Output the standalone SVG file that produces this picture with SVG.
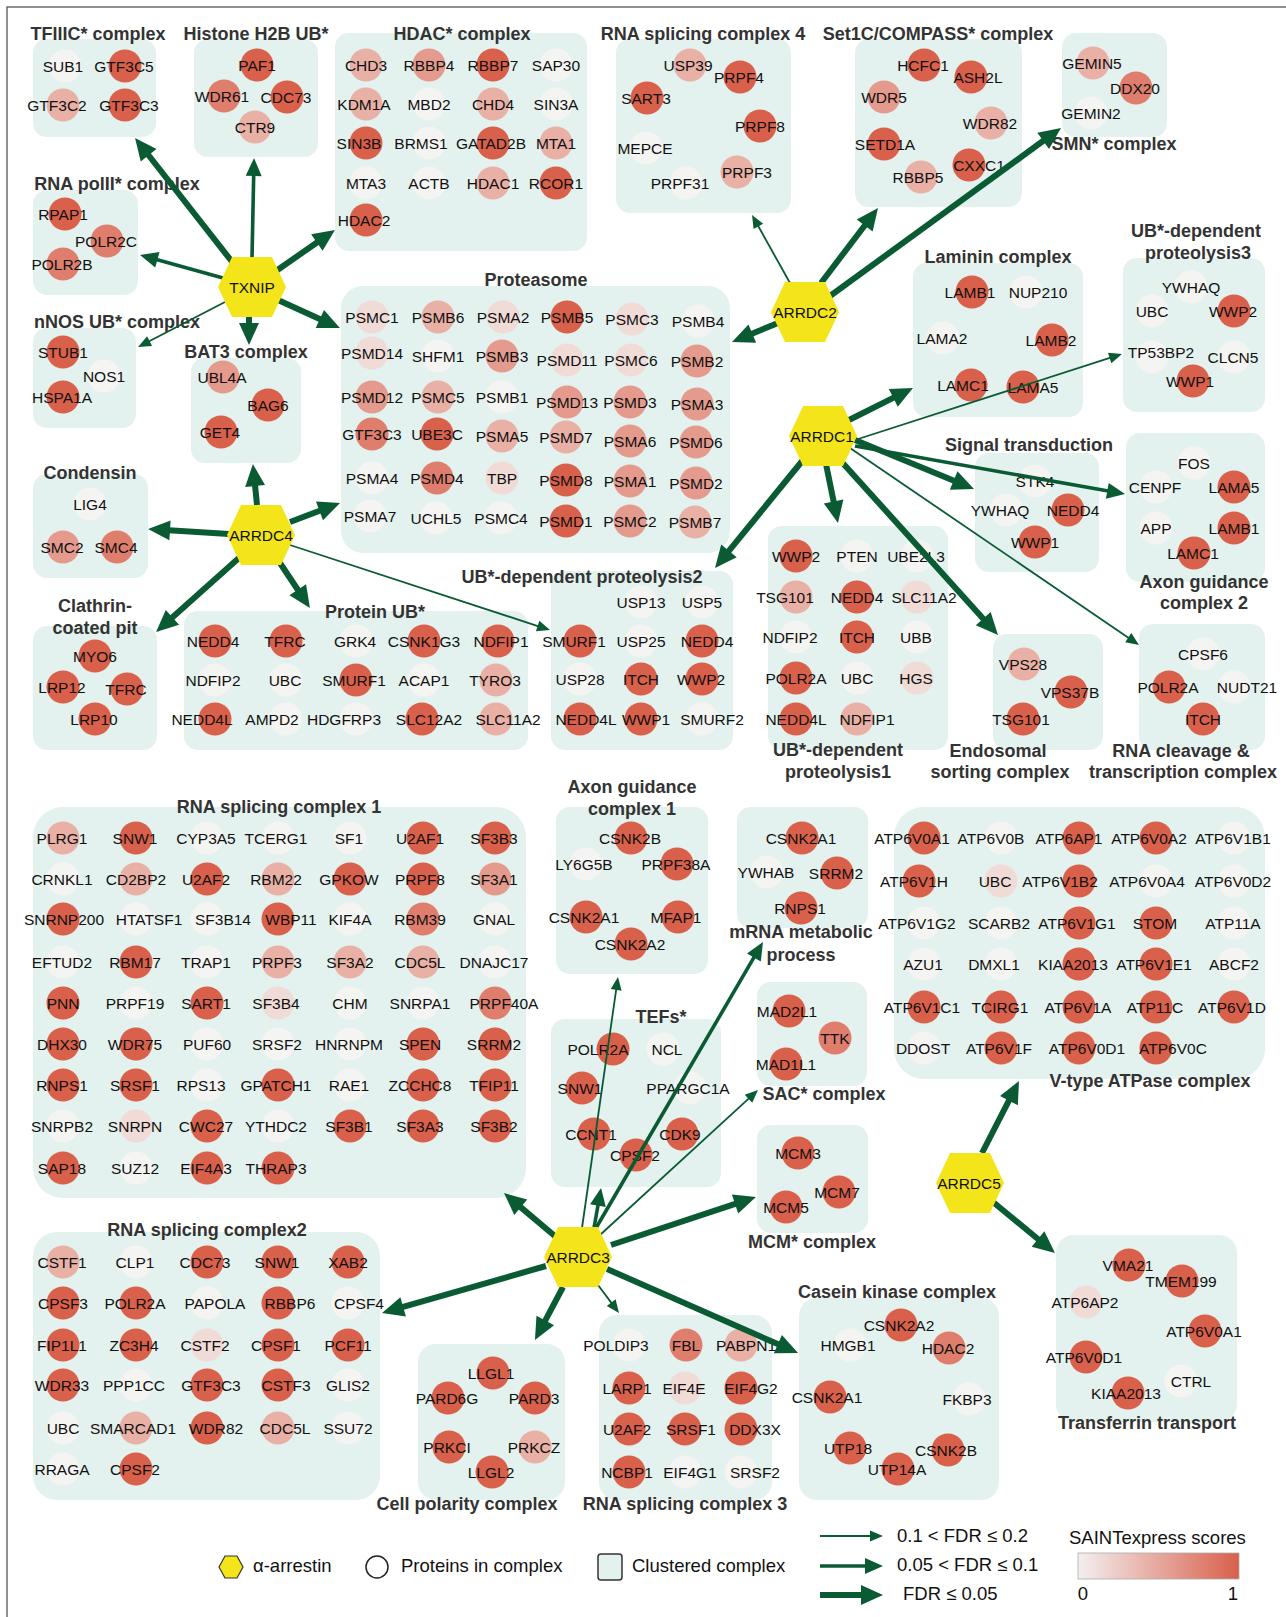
<svg xmlns="http://www.w3.org/2000/svg" width="1286" height="1617" viewBox="0 0 1286 1617">
<defs>
<style>
.bx{fill:#e3f2ee}
.t{font-family:'Liberation Sans',Arial,sans-serif;font-weight:bold;font-size:18px;fill:#333;text-anchor:middle}
.l{font-family:'Liberation Sans',Arial,sans-serif;font-size:15.5px;fill:#111;text-anchor:middle}
.g{font-family:'Liberation Sans',Arial,sans-serif;font-size:18.5px;fill:#111}
.c0{fill:#f4f4f2}.c1{fill:#f1dbd7}.c2{fill:#e9b0a6}.c3{fill:#e49a8c}.c4{fill:#df7e6d}.c5{fill:#d9604b}
.a1,.a2,.a3{stroke:#0a5b34;fill:none}
.a1{stroke-width:1.8;marker-end:url(#m1)}
.a2{stroke-width:3.6;marker-end:url(#m2)}
.a3{stroke-width:6;marker-end:url(#m3)}
</style>
<marker id="m1" markerUnits="userSpaceOnUse" markerWidth="14" markerHeight="12" refX="1" refY="5.5" orient="auto" overflow="visible"><path d="M0,0 L13,5.5 L0,11 z" fill="#0a5b34"/></marker>
<marker id="m2" markerUnits="userSpaceOnUse" markerWidth="19" markerHeight="17" refX="1" refY="8" orient="auto" overflow="visible"><path d="M0,0 L18,8 L0,16 z" fill="#0a5b34"/></marker>
<marker id="m3" markerUnits="userSpaceOnUse" markerWidth="23" markerHeight="21" refX="1" refY="10" orient="auto" overflow="visible"><path d="M0,0 L22,10 L0,20 z" fill="#0a5b34"/></marker>
<polygon id="hex" points="-34,0 -20,-30 20,-30 34,0 20,30 -20,30" fill="#f4e51b"/>
<linearGradient id="sg" x1="0" x2="1" y1="0" y2="0"><stop offset="0" stop-color="#f3efef"/><stop offset="1" stop-color="#d9604c"/></linearGradient>
</defs>
<rect width="1286" height="1617" fill="#fff"/>
<rect x="7" y="7" width="1300" height="1640" fill="none" stroke="#555" stroke-width="1.3"/>

<g id="tfiiic">
<rect class="bx" x="33" y="39" width="123" height="98" rx="14"/>
<text class="t" x="98" y="40">TFIIIC* complex</text>
<circle class="c0" cx="65" cy="66" r="16.5"/><text class="l" x="63" y="71.5">SUB1</text>
<circle class="c5" cx="125" cy="66" r="16.5"/><text class="l" x="124" y="71.5">GTF3C5</text>
<circle class="c2" cx="63" cy="105" r="16.5"/><text class="l" x="57" y="110.5">GTF3C2</text>
<circle class="c5" cx="125" cy="105" r="16.5"/><text class="l" x="129" y="110.5">GTF3C3</text>
</g>

<g id="h2b">
<rect class="bx" x="194" y="39" width="124" height="118" rx="14"/>
<text class="t" x="256" y="40">Histone H2B UB*</text>
<circle class="c5" cx="257" cy="65" r="16.5"/><text class="l" x="257" y="70.5">PAF1</text>
<circle class="c4" cx="224" cy="96" r="16.5"/><text class="l" x="222" y="101.5">WDR61</text>
<circle class="c5" cx="287" cy="97" r="16.5"/><text class="l" x="286" y="102.5">CDC73</text>
<circle class="c2" cx="255" cy="127" r="16.5"/><text class="l" x="255" y="132.5">CTR9</text>
</g>

<g id="hdac">
<rect class="bx" x="335" y="33" width="252" height="218" rx="14"/>
<text class="t" x="462" y="40">HDAC* complex</text>
<circle class="c2" cx="366" cy="65" r="16.5"/><text class="l" x="366" y="70.5">CHD3</text>
<circle class="c3" cx="429" cy="65" r="16.5"/><text class="l" x="429" y="70.5">RBBP4</text>
<circle class="c5" cx="493" cy="65" r="16.5"/><text class="l" x="493" y="70.5">RBBP7</text>
<circle class="c0" cx="556" cy="65" r="16.5"/><text class="l" x="556" y="70.5">SAP30</text>
<circle class="c2" cx="366" cy="104" r="16.5"/><text class="l" x="364" y="109.5">KDM1A</text>
<circle class="c0" cx="429" cy="104" r="16.5"/><text class="l" x="429" y="109.5">MBD2</text>
<circle class="c2" cx="493" cy="104" r="16.5"/><text class="l" x="493" y="109.5">CHD4</text>
<circle class="c0" cx="556" cy="104" r="16.5"/><text class="l" x="556" y="109.5">SIN3A</text>
<circle class="c5" cx="366" cy="143" r="16.5"/><text class="l" x="359" y="148.5">SIN3B</text>
<circle class="c0" cx="429" cy="143" r="16.5"/><text class="l" x="421" y="148.5">BRMS1</text>
<circle class="c5" cx="493" cy="143" r="16.5"/><text class="l" x="491" y="148.5">GATAD2B</text>
<circle class="c2" cx="556" cy="143" r="16.5"/><text class="l" x="556" y="148.5">MTA1</text>
<circle class="c0" cx="366" cy="183" r="16.5"/><text class="l" x="366" y="188.5">MTA3</text>
<circle class="c0" cx="429" cy="183" r="16.5"/><text class="l" x="429" y="188.5">ACTB</text>
<circle class="c2" cx="493" cy="183" r="16.5"/><text class="l" x="493" y="188.5">HDAC1</text>
<circle class="c5" cx="556" cy="183" r="16.5"/><text class="l" x="556" y="188.5">RCOR1</text>
<circle class="c5" cx="366" cy="220" r="16.5"/><text class="l" x="364" y="225.5">HDAC2</text>
</g>

<g id="rnasp4">
<rect class="bx" x="616" y="39" width="175" height="174" rx="14"/>
<text class="t" x="703" y="40">RNA splicing complex 4</text>
<circle class="c2" cx="690" cy="65" r="16.5"/><text class="l" x="688" y="70.5">USP39</text>
<circle class="c5" cx="740" cy="77" r="16.5"/><text class="l" x="739" y="82.5">PRPF4</text>
<circle class="c5" cx="647" cy="98" r="16.5"/><text class="l" x="646" y="103.5">SART3</text>
<circle class="c5" cx="760" cy="126" r="16.5"/><text class="l" x="760" y="131.5">PRPF8</text>
<circle class="c0" cx="646" cy="148" r="16.5"/><text class="l" x="645" y="153.5">MEPCE</text>
<circle class="c2" cx="737" cy="172" r="16.5"/><text class="l" x="747" y="177.5">PRPF3</text>
<circle class="c0" cx="686" cy="183" r="16.5"/><text class="l" x="680" y="188.5">PRPF31</text>
</g>

<g id="set1c">
<rect class="bx" x="855" y="39" width="167" height="168" rx="14"/>
<text class="t" x="938" y="40">Set1C/COMPASS* complex</text>
<circle class="c5" cx="924" cy="65" r="16.5"/><text class="l" x="923" y="70.5">HCFC1</text>
<circle class="c5" cx="971" cy="77" r="16.5"/><text class="l" x="978" y="82.5">ASH2L</text>
<circle class="c3" cx="884" cy="97" r="16.5"/><text class="l" x="884" y="102.5">WDR5</text>
<circle class="c2" cx="991" cy="123" r="16.5"/><text class="l" x="990" y="128.5">WDR82</text>
<circle class="c5" cx="884" cy="144" r="16.5"/><text class="l" x="885" y="149.5">SETD1A</text>
<circle class="c2" cx="921" cy="177" r="16.5"/><text class="l" x="918" y="182.5">RBBP5</text>
<circle class="c5" cx="969" cy="165" r="16.5"/><text class="l" x="979" y="170.5">CXXC1</text>
</g>

<g id="smn">
<rect class="bx" x="1062" y="33" width="105" height="104" rx="14"/>
<text class="t" x="1114" y="150">SMN* complex</text>
<circle class="c2" cx="1093" cy="63" r="16.5"/><text class="l" x="1092" y="68.5">GEMIN5</text>
<circle class="c4" cx="1136" cy="88" r="16.5"/><text class="l" x="1135" y="93.5">DDX20</text>
<circle class="c0" cx="1091" cy="113" r="16.5"/><text class="l" x="1091" y="118.5">GEMIN2</text>
</g>

<g id="rnapol2">
<rect class="bx" x="33" y="190" width="105" height="105" rx="14"/>
<text class="t" x="117" y="190">RNA polII* complex</text>
<circle class="c5" cx="65" cy="214" r="16.5"/><text class="l" x="63" y="219.5">RPAP1</text>
<circle class="c4" cx="107" cy="241" r="16.5"/><text class="l" x="106" y="246.5">POLR2C</text>
<circle class="c4" cx="63" cy="264" r="16.5"/><text class="l" x="62" y="269.5">POLR2B</text>
</g>

<g id="nnos">
<rect class="bx" x="33" y="328" width="103" height="100" rx="14"/>
<text class="t" x="117" y="328">nNOS UB* complex</text>
<circle class="c5" cx="63" cy="352" r="16.5"/><text class="l" x="63" y="357.5">STUB1</text>
<circle class="c0" cx="104" cy="376" r="16.5"/><text class="l" x="104" y="381.5">NOS1</text>
<circle class="c5" cx="63" cy="397" r="16.5"/><text class="l" x="62" y="402.5">HSPA1A</text>
</g>

<g id="bat3">
<rect class="bx" x="191" y="358" width="110" height="105" rx="14"/>
<text class="t" x="246" y="358">BAT3 complex</text>
<circle class="c3" cx="223" cy="377" r="16.5"/><text class="l" x="222" y="382.5">UBL4A</text>
<circle class="c5" cx="268" cy="405" r="16.5"/><text class="l" x="268" y="410.5">BAG6</text>
<circle class="c5" cx="221" cy="432" r="16.5"/><text class="l" x="220" y="437.5">GET4</text>
</g>

<g id="proteasome">
<rect class="bx" x="341" y="286" width="389" height="267" rx="22"/>
<text class="t" x="536" y="286">Proteasome</text>
<circle class="c1" cx="372" cy="317" r="16.5"/><text class="l" x="372" y="322.5">PSMC1</text>
<circle class="c2" cx="438" cy="317" r="16.5"/><text class="l" x="438" y="322.5">PSMB6</text>
<circle class="c1" cx="503" cy="317" r="16.5"/><text class="l" x="503" y="322.5">PSMA2</text>
<circle class="c5" cx="567" cy="317" r="16.5"/><text class="l" x="567" y="322.5">PSMB5</text>
<circle class="c1" cx="632" cy="319" r="16.5"/><text class="l" x="632" y="324.5">PSMC3</text>
<circle class="c0" cx="698" cy="321" r="16.5"/><text class="l" x="698" y="326.5">PSMB4</text>
<circle class="c1" cx="372" cy="353" r="16.5"/><text class="l" x="372" y="358.5">PSMD14</text>
<circle class="c0" cx="438" cy="356" r="16.5"/><text class="l" x="438" y="361.5">SHFM1</text>
<circle class="c3" cx="502" cy="356" r="16.5"/><text class="l" x="502" y="361.5">PSMB3</text>
<circle class="c1" cx="567" cy="360" r="16.5"/><text class="l" x="567" y="365.5">PSMD11</text>
<circle class="c1" cx="631" cy="360" r="16.5"/><text class="l" x="631" y="365.5">PSMC6</text>
<circle class="c3" cx="697" cy="361" r="16.5"/><text class="l" x="697" y="366.5">PSMB2</text>
<circle class="c3" cx="372" cy="397" r="16.5"/><text class="l" x="372" y="402.5">PSMD12</text>
<circle class="c2" cx="438" cy="397" r="16.5"/><text class="l" x="438" y="402.5">PSMC5</text>
<circle class="c0" cx="502" cy="397" r="16.5"/><text class="l" x="502" y="402.5">PSMB1</text>
<circle class="c3" cx="567" cy="402" r="16.5"/><text class="l" x="567" y="407.5">PSMD13</text>
<circle class="c3" cx="630" cy="402" r="16.5"/><text class="l" x="630" y="407.5">PSMD3</text>
<circle class="c3" cx="697" cy="404" r="16.5"/><text class="l" x="697" y="409.5">PSMA3</text>
<circle class="c4" cx="372" cy="434" r="16.5"/><text class="l" x="372" y="439.5">GTF3C3</text>
<circle class="c5" cx="437" cy="434" r="16.5"/><text class="l" x="437" y="439.5">UBE3C</text>
<circle class="c2" cx="502" cy="436" r="16.5"/><text class="l" x="502" y="441.5">PSMA5</text>
<circle class="c2" cx="566" cy="437" r="16.5"/><text class="l" x="566" y="442.5">PSMD7</text>
<circle class="c3" cx="630" cy="441" r="16.5"/><text class="l" x="630" y="446.5">PSMA6</text>
<circle class="c3" cx="696" cy="442" r="16.5"/><text class="l" x="696" y="447.5">PSMD6</text>
<circle class="c0" cx="372" cy="478" r="16.5"/><text class="l" x="372" y="483.5">PSMA4</text>
<circle class="c4" cx="437" cy="478" r="16.5"/><text class="l" x="437" y="483.5">PSMD4</text>
<circle class="c1" cx="502" cy="478" r="16.5"/><text class="l" x="502" y="483.5">TBP</text>
<circle class="c5" cx="566" cy="480" r="16.5"/><text class="l" x="566" y="485.5">PSMD8</text>
<circle class="c3" cx="630" cy="481" r="16.5"/><text class="l" x="630" y="486.5">PSMA1</text>
<circle class="c3" cx="696" cy="483" r="16.5"/><text class="l" x="696" y="488.5">PSMD2</text>
<circle class="c0" cx="370" cy="516" r="16.5"/><text class="l" x="370" y="521.5">PSMA7</text>
<circle class="c0" cx="436" cy="518" r="16.5"/><text class="l" x="436" y="523.5">UCHL5</text>
<circle class="c0" cx="501" cy="518" r="16.5"/><text class="l" x="501" y="523.5">PSMC4</text>
<circle class="c5" cx="566" cy="521" r="16.5"/><text class="l" x="566" y="526.5">PSMD1</text>
<circle class="c3" cx="630" cy="521" r="16.5"/><text class="l" x="630" y="526.5">PSMC2</text>
<circle class="c2" cx="695" cy="522" r="16.5"/><text class="l" x="695" y="527.5">PSMB7</text>
</g>

<g id="laminin">
<rect class="bx" x="913" y="263" width="170" height="154" rx="14"/>
<text class="t" x="998" y="263">Laminin complex</text>
<circle class="c5" cx="972" cy="292" r="16.5"/><text class="l" x="970" y="297.5">LAMB1</text>
<circle class="c0" cx="1026" cy="292" r="16.5"/><text class="l" x="1038" y="297.5">NUP210</text>
<circle class="c0" cx="943" cy="338" r="16.5"/><text class="l" x="942" y="343.5">LAMA2</text>
<circle class="c5" cx="1052" cy="340" r="16.5"/><text class="l" x="1051" y="345.5">LAMB2</text>
<circle class="c5" cx="971" cy="385" r="16.5"/><text class="l" x="963" y="390.5">LAMC1</text>
<circle class="c5" cx="1023" cy="387" r="16.5"/><text class="l" x="1033" y="392.5">LAMA5</text>
</g>

<g id="ubdp3">
<rect class="bx" x="1123" y="258" width="142" height="154" rx="14"/>
<text class="t" x="1196" y="237">UB*-dependent</text>
<text class="t" x="1198" y="259">proteolysis3</text>
<circle class="c0" cx="1191" cy="287" r="16.5"/><text class="l" x="1191" y="292.5">YWHAQ</text>
<circle class="c0" cx="1152" cy="311" r="16.5"/><text class="l" x="1152" y="316.5">UBC</text>
<circle class="c5" cx="1234" cy="311" r="16.5"/><text class="l" x="1233" y="316.5">WWP2</text>
<circle class="c0" cx="1152" cy="357" r="16.5"/><text class="l" x="1161" y="357.5">TP53BP2</text>
<circle class="c0" cx="1234" cy="357" r="16.5"/><text class="l" x="1233" y="362.5">CLCN5</text>
<circle class="c5" cx="1193" cy="381" r="16.5"/><text class="l" x="1190" y="386.5">WWP1</text>
</g>

<g id="signal">
<rect class="bx" x="975" y="453" width="124" height="119" rx="14"/>
<text class="t" x="1029" y="451">Signal transduction</text>
<circle class="c0" cx="1035" cy="481" r="16.5"/><text class="l" x="1035" y="486.5">STK4</text>
<circle class="c0" cx="1006" cy="510" r="16.5"/><text class="l" x="1000" y="515.5">YWHAQ</text>
<circle class="c5" cx="1068" cy="510" r="16.5"/><text class="l" x="1073" y="515.5">NEDD4</text>
<circle class="c5" cx="1035" cy="542" r="16.5"/><text class="l" x="1035" y="547.5">WWP1</text>
</g>

<g id="axon2">
<rect class="bx" x="1126" y="433" width="139" height="149" rx="14"/>
<text class="t" x="1204" y="588">Axon guidance</text>
<text class="t" x="1204" y="609">complex 2</text>
<circle class="c0" cx="1194" cy="463" r="16.5"/><text class="l" x="1194" y="468.5">FOS</text>
<circle class="c0" cx="1156" cy="487" r="16.5"/><text class="l" x="1155" y="492.5">CENPF</text>
<circle class="c5" cx="1234" cy="487" r="16.5"/><text class="l" x="1234" y="492.5">LAMA5</text>
<circle class="c0" cx="1156" cy="528" r="16.5"/><text class="l" x="1156" y="533.5">APP</text>
<circle class="c5" cx="1234" cy="528" r="16.5"/><text class="l" x="1234" y="533.5">LAMB1</text>
<circle class="c5" cx="1194" cy="553" r="16.5"/><text class="l" x="1193" y="558.5">LAMC1</text>
</g>

<g id="ubdp1">
<rect class="bx" x="768" y="526" width="180" height="224" rx="14"/>
<text class="t" x="838" y="756">UB*-dependent</text>
<text class="t" x="838" y="778">proteolysis1</text>
<circle class="c5" cx="796" cy="556" r="16.5"/><text class="l" x="796" y="561.5">WWP2</text>
<circle class="c0" cx="857" cy="556" r="16.5"/><text class="l" x="857" y="561.5">PTEN</text>
<circle class="c0" cx="917" cy="556" r="16.5"/><text class="l" x="916" y="561.5">UBE2L3</text>
<circle class="c2" cx="796" cy="597" r="16.5"/><text class="l" x="785" y="602.5">TSG101</text>
<circle class="c5" cx="857" cy="597" r="16.5"/><text class="l" x="857" y="602.5">NEDD4</text>
<circle class="c1" cx="917" cy="597" r="16.5"/><text class="l" x="924" y="602.5">SLC11A2</text>
<circle class="c0" cx="796" cy="637" r="16.5"/><text class="l" x="790" y="642.5">NDFIP2</text>
<circle class="c5" cx="857" cy="637" r="16.5"/><text class="l" x="857" y="642.5">ITCH</text>
<circle class="c0" cx="917" cy="637" r="16.5"/><text class="l" x="916" y="642.5">UBB</text>
<circle class="c5" cx="796" cy="678" r="16.5"/><text class="l" x="796" y="683.5">POLR2A</text>
<circle class="c0" cx="857" cy="678" r="16.5"/><text class="l" x="857" y="683.5">UBC</text>
<circle class="c1" cx="917" cy="678" r="16.5"/><text class="l" x="916" y="683.5">HGS</text>
<circle class="c5" cx="796" cy="719" r="16.5"/><text class="l" x="796" y="724.5">NEDD4L</text>
<circle class="c2" cx="857" cy="719" r="16.5"/><text class="l" x="867" y="724.5">NDFIP1</text>
</g>

<g id="endosomal">
<rect class="bx" x="993" y="634" width="110" height="116" rx="14"/>
<text class="t" x="998" y="757">Endosomal</text>
<text class="t" x="1000" y="778">sorting complex</text>
<circle class="c2" cx="1024" cy="664" r="16.5"/><text class="l" x="1023" y="669.5">VPS28</text>
<circle class="c5" cx="1071" cy="692" r="16.5"/><text class="l" x="1070" y="697.5">VPS37B</text>
<circle class="c5" cx="1023" cy="719" r="16.5"/><text class="l" x="1021" y="724.5">TSG101</text>
</g>

<g id="rnacleav">
<rect class="bx" x="1139" y="624" width="126" height="126" rx="14"/>
<text class="t" x="1181" y="757">RNA cleavage &amp;</text>
<text class="t" x="1183" y="778">transcription complex</text>
<circle class="c0" cx="1203" cy="654" r="16.5"/><text class="l" x="1203" y="659.5">CPSF6</text>
<circle class="c5" cx="1169" cy="687" r="16.5"/><text class="l" x="1168" y="692.5">POLR2A</text>
<circle class="c0" cx="1234" cy="687" r="16.5"/><text class="l" x="1247" y="692.5">NUDT21</text>
<circle class="c5" cx="1203" cy="719" r="16.5"/><text class="l" x="1203" y="724.5">ITCH</text>
</g>

<g id="condensin">
<rect class="bx" x="33" y="474" width="115" height="104" rx="14"/>
<text class="t" x="90" y="479">Condensin</text>
<circle class="c0" cx="90" cy="504" r="16.5"/><text class="l" x="90" y="509.5">LIG4</text>
<circle class="c3" cx="63" cy="547" r="16.5"/><text class="l" x="62" y="552.5">SMC2</text>
<circle class="c4" cx="117" cy="547" r="16.5"/><text class="l" x="116" y="552.5">SMC4</text>
</g>

<g id="clathrin">
<rect class="bx" x="33" y="626" width="124" height="124" rx="14"/>
<text class="t" x="95" y="612">Clathrin-</text>
<text class="t" x="95" y="634">coated pit</text>
<circle class="c5" cx="95" cy="656" r="16.5"/><text class="l" x="95" y="661.5">MYO6</text>
<circle class="c5" cx="63" cy="687" r="16.5"/><text class="l" x="62" y="692.5">LRP12</text>
<circle class="c5" cx="127" cy="689" r="16.5"/><text class="l" x="126" y="694.5">TFRC</text>
<circle class="c5" cx="95" cy="719" r="16.5"/><text class="l" x="94" y="724.5">LRP10</text>
</g>

<g id="proteinub">
<rect class="bx" x="184" y="611" width="344" height="139" rx="14"/>
<text class="t" x="375" y="618">Protein UB*</text>
<circle class="c5" cx="215" cy="641" r="16.5"/><text class="l" x="213" y="646.5">NEDD4</text>
<circle class="c5" cx="286" cy="641" r="16.5"/><text class="l" x="285" y="646.5">TFRC</text>
<circle class="c0" cx="356" cy="641" r="16.5"/><text class="l" x="355" y="646.5">GRK4</text>
<circle class="c5" cx="424" cy="641" r="16.5"/><text class="l" x="424" y="646.5">CSNK1G3</text>
<circle class="c5" cx="498" cy="641" r="16.5"/><text class="l" x="501" y="646.5">NDFIP1</text>
<circle class="c0" cx="215" cy="680" r="16.5"/><text class="l" x="213" y="685.5">NDFIP2</text>
<circle class="c0" cx="286" cy="680" r="16.5"/><text class="l" x="285" y="685.5">UBC</text>
<circle class="c5" cx="356" cy="680" r="16.5"/><text class="l" x="354" y="685.5">SMURF1</text>
<circle class="c0" cx="424" cy="680" r="16.5"/><text class="l" x="424" y="685.5">ACAP1</text>
<circle class="c2" cx="496" cy="680" r="16.5"/><text class="l" x="495" y="685.5">TYRO3</text>
<circle class="c5" cx="215" cy="719" r="16.5"/><text class="l" x="202" y="724.5">NEDD4L</text>
<circle class="c0" cx="286" cy="719" r="16.5"/><text class="l" x="272" y="724.5">AMPD2</text>
<circle class="c0" cx="356" cy="719" r="16.5"/><text class="l" x="344" y="724.5">HDGFRP3</text>
<circle class="c5" cx="422" cy="719" r="16.5"/><text class="l" x="429" y="724.5">SLC12A2</text>
<circle class="c2" cx="496" cy="719" r="16.5"/><text class="l" x="508" y="724.5">SLC11A2</text>
</g>

<g id="ubdp2">
<rect class="bx" x="551" y="571" width="182" height="179" rx="14"/>
<text class="t" x="582" y="583">UB*-dependent proteolysis2</text>
<circle class="c0" cx="641" cy="602" r="16.5"/><text class="l" x="641" y="607.5">USP13</text>
<circle class="c0" cx="702" cy="602" r="16.5"/><text class="l" x="702" y="607.5">USP5</text>
<circle class="c5" cx="580" cy="641" r="16.5"/><text class="l" x="574" y="646.5">SMURF1</text>
<circle class="c0" cx="641" cy="641" r="16.5"/><text class="l" x="641" y="646.5">USP25</text>
<circle class="c5" cx="702" cy="641" r="16.5"/><text class="l" x="707" y="646.5">NEDD4</text>
<circle class="c0" cx="580" cy="679" r="16.5"/><text class="l" x="580" y="684.5">USP28</text>
<circle class="c5" cx="641" cy="679" r="16.5"/><text class="l" x="641" y="684.5">ITCH</text>
<circle class="c5" cx="702" cy="679" r="16.5"/><text class="l" x="701" y="684.5">WWP2</text>
<circle class="c5" cx="580" cy="719" r="16.5"/><text class="l" x="586" y="724.5">NEDD4L</text>
<circle class="c5" cx="641" cy="719" r="16.5"/><text class="l" x="646" y="724.5">WWP1</text>
<circle class="c0" cx="702" cy="719" r="16.5"/><text class="l" x="712" y="724.5">SMURF2</text>
</g>

<g id="rnasp1">
<rect class="bx" x="33" y="807" width="493" height="391" rx="30"/>
<text class="t" x="279" y="813">RNA splicing complex 1</text>
<circle class="c2" cx="63" cy="838" r="16.5"/><text class="l" x="62" y="843.5">PLRG1</text>
<circle class="c5" cx="136" cy="838" r="16.5"/><text class="l" x="135" y="843.5">SNW1</text>
<circle class="c0" cx="207" cy="838" r="16.5"/><text class="l" x="206" y="843.5">CYP3A5</text>
<circle class="c0" cx="278" cy="838" r="16.5"/><text class="l" x="276" y="843.5">TCERG1</text>
<circle class="c0" cx="350" cy="838" r="16.5"/><text class="l" x="349" y="843.5">SF1</text>
<circle class="c5" cx="423" cy="838" r="16.5"/><text class="l" x="420" y="843.5">U2AF1</text>
<circle class="c5" cx="495" cy="838" r="16.5"/><text class="l" x="494" y="843.5">SF3B3</text>
<circle class="c0" cx="63" cy="879" r="16.5"/><text class="l" x="62" y="884.5">CRNKL1</text>
<circle class="c2" cx="136" cy="879" r="16.5"/><text class="l" x="136" y="884.5">CD2BP2</text>
<circle class="c5" cx="207" cy="879" r="16.5"/><text class="l" x="206" y="884.5">U2AF2</text>
<circle class="c2" cx="278" cy="879" r="16.5"/><text class="l" x="276" y="884.5">RBM22</text>
<circle class="c5" cx="350" cy="879" r="16.5"/><text class="l" x="349" y="884.5">GPKOW</text>
<circle class="c5" cx="423" cy="879" r="16.5"/><text class="l" x="420" y="884.5">PRPF8</text>
<circle class="c3" cx="495" cy="879" r="16.5"/><text class="l" x="494" y="884.5">SF3A1</text>
<circle class="c5" cx="63" cy="919" r="16.5"/><text class="l" x="64" y="924.5">SNRNP200</text>
<circle class="c0" cx="136" cy="919" r="16.5"/><text class="l" x="149" y="924.5">HTATSF1</text>
<circle class="c0" cx="207" cy="919" r="16.5"/><text class="l" x="223" y="924.5">SF3B14</text>
<circle class="c5" cx="278" cy="919" r="16.5"/><text class="l" x="291" y="924.5">WBP11</text>
<circle class="c0" cx="350" cy="919" r="16.5"/><text class="l" x="350" y="924.5">KIF4A</text>
<circle class="c4" cx="423" cy="919" r="16.5"/><text class="l" x="420" y="924.5">RBM39</text>
<circle class="c0" cx="495" cy="919" r="16.5"/><text class="l" x="494" y="924.5">GNAL</text>
<circle class="c0" cx="63" cy="962" r="16.5"/><text class="l" x="62" y="967.5">EFTUD2</text>
<circle class="c5" cx="136" cy="962" r="16.5"/><text class="l" x="135" y="967.5">RBM17</text>
<circle class="c0" cx="207" cy="962" r="16.5"/><text class="l" x="206" y="967.5">TRAP1</text>
<circle class="c2" cx="278" cy="962" r="16.5"/><text class="l" x="277" y="967.5">PRPF3</text>
<circle class="c2" cx="350" cy="962" r="16.5"/><text class="l" x="350" y="967.5">SF3A2</text>
<circle class="c2" cx="423" cy="962" r="16.5"/><text class="l" x="420" y="967.5">CDC5L</text>
<circle class="c0" cx="495" cy="962" r="16.5"/><text class="l" x="494" y="967.5">DNAJC17</text>
<circle class="c5" cx="63" cy="1003" r="16.5"/><text class="l" x="63" y="1008.5">PNN</text>
<circle class="c0" cx="136" cy="1003" r="16.5"/><text class="l" x="135" y="1008.5">PRPF19</text>
<circle class="c5" cx="207" cy="1003" r="16.5"/><text class="l" x="206" y="1008.5">SART1</text>
<circle class="c1" cx="278" cy="1003" r="16.5"/><text class="l" x="276" y="1008.5">SF3B4</text>
<circle class="c0" cx="350" cy="1003" r="16.5"/><text class="l" x="350" y="1008.5">CHM</text>
<circle class="c0" cx="423" cy="1003" r="16.5"/><text class="l" x="420" y="1008.5">SNRPA1</text>
<circle class="c4" cx="495" cy="1003" r="16.5"/><text class="l" x="504" y="1008.5">PRPF40A</text>
<circle class="c5" cx="63" cy="1044" r="16.5"/><text class="l" x="62" y="1049.5">DHX30</text>
<circle class="c5" cx="136" cy="1044" r="16.5"/><text class="l" x="135" y="1049.5">WDR75</text>
<circle class="c0" cx="207" cy="1044" r="16.5"/><text class="l" x="207" y="1049.5">PUF60</text>
<circle class="c0" cx="278" cy="1044" r="16.5"/><text class="l" x="277" y="1049.5">SRSF2</text>
<circle class="c0" cx="350" cy="1044" r="16.5"/><text class="l" x="349" y="1049.5">HNRNPM</text>
<circle class="c5" cx="423" cy="1044" r="16.5"/><text class="l" x="420" y="1049.5">SPEN</text>
<circle class="c5" cx="495" cy="1044" r="16.5"/><text class="l" x="494" y="1049.5">SRRM2</text>
<circle class="c5" cx="63" cy="1085" r="16.5"/><text class="l" x="62" y="1090.5">RNPS1</text>
<circle class="c5" cx="136" cy="1085" r="16.5"/><text class="l" x="135" y="1090.5">SRSF1</text>
<circle class="c0" cx="207" cy="1085" r="16.5"/><text class="l" x="201" y="1090.5">RPS13</text>
<circle class="c5" cx="278" cy="1085" r="16.5"/><text class="l" x="276" y="1090.5">GPATCH1</text>
<circle class="c0" cx="350" cy="1085" r="16.5"/><text class="l" x="349" y="1090.5">RAE1</text>
<circle class="c5" cx="423" cy="1085" r="16.5"/><text class="l" x="420" y="1090.5">ZCCHC8</text>
<circle class="c5" cx="495" cy="1085" r="16.5"/><text class="l" x="494" y="1090.5">TFIP11</text>
<circle class="c0" cx="63" cy="1126" r="16.5"/><text class="l" x="62" y="1131.5">SNRPB2</text>
<circle class="c1" cx="136" cy="1126" r="16.5"/><text class="l" x="135" y="1131.5">SNRPN</text>
<circle class="c5" cx="207" cy="1126" r="16.5"/><text class="l" x="206" y="1131.5">CWC27</text>
<circle class="c0" cx="278" cy="1126" r="16.5"/><text class="l" x="276" y="1131.5">YTHDC2</text>
<circle class="c5" cx="350" cy="1126" r="16.5"/><text class="l" x="349" y="1131.5">SF3B1</text>
<circle class="c5" cx="423" cy="1126" r="16.5"/><text class="l" x="420" y="1131.5">SF3A3</text>
<circle class="c5" cx="495" cy="1126" r="16.5"/><text class="l" x="494" y="1131.5">SF3B2</text>
<circle class="c5" cx="63" cy="1168" r="16.5"/><text class="l" x="62" y="1173.5">SAP18</text>
<circle class="c0" cx="136" cy="1168" r="16.5"/><text class="l" x="135" y="1173.5">SUZ12</text>
<circle class="c5" cx="207" cy="1168" r="16.5"/><text class="l" x="206" y="1173.5">EIF4A3</text>
<circle class="c5" cx="278" cy="1168" r="16.5"/><text class="l" x="276" y="1173.5">THRAP3</text>
</g>

<g id="axon1">
<rect class="bx" x="556" y="807" width="152" height="167" rx="14"/>
<text class="t" x="632" y="793">Axon guidance</text>
<text class="t" x="632" y="815">complex 1</text>
<circle class="c5" cx="631" cy="838" r="16.5"/><text class="l" x="630" y="843.5">CSNK2B</text>
<circle class="c0" cx="586" cy="864" r="16.5"/><text class="l" x="584" y="869.5">LY6G5B</text>
<circle class="c5" cx="677" cy="864" r="16.5"/><text class="l" x="676" y="869.5">PRPF38A</text>
<circle class="c5" cx="586" cy="917" r="16.5"/><text class="l" x="584" y="922.5">CSNK2A1</text>
<circle class="c5" cx="678" cy="917" r="16.5"/><text class="l" x="676" y="922.5">MFAP1</text>
<circle class="c5" cx="631" cy="944" r="16.5"/><text class="l" x="630" y="949.5">CSNK2A2</text>
</g>

<g id="mrna">
<rect class="bx" x="737" y="807" width="131" height="121" rx="14"/>
<text class="t" x="801" y="938">mRNA metabolic</text>
<text class="t" x="801" y="961">process</text>
<circle class="c5" cx="802" cy="838" r="16.5"/><text class="l" x="801" y="843.5">CSNK2A1</text>
<circle class="c0" cx="767" cy="872" r="16.5"/><text class="l" x="766" y="877.5">YWHAB</text>
<circle class="c5" cx="837" cy="873" r="16.5"/><text class="l" x="836" y="878.5">SRRM2</text>
<circle class="c5" cx="801" cy="908" r="16.5"/><text class="l" x="800" y="913.5">RNPS1</text>
</g>

<g id="sac">
<rect class="bx" x="757" y="982" width="110" height="104" rx="14"/>
<text class="t" x="824" y="1100">SAC* complex</text>
<circle class="c5" cx="789" cy="1011" r="16.5"/><text class="l" x="787" y="1016.5">MAD2L1</text>
<circle class="c4" cx="835" cy="1038" r="16.5"/><text class="l" x="835" y="1043.5">TTK</text>
<circle class="c5" cx="786" cy="1064" r="16.5"/><text class="l" x="786" y="1069.5">MAD1L1</text>
</g>

<g id="tefs">
<rect class="bx" x="551" y="1019" width="170" height="168" rx="14"/>
<text class="t" x="661" y="1023">TEFs*</text>
<circle class="c5" cx="613" cy="1049" r="16.5"/><text class="l" x="598" y="1054.5">POLR2A</text>
<circle class="c0" cx="663" cy="1049" r="16.5"/><text class="l" x="667" y="1054.5">NCL</text>
<circle class="c5" cx="582" cy="1088" r="16.5"/><text class="l" x="580" y="1093.5">SNW1</text>
<circle class="c0" cx="690" cy="1088" r="16.5"/><text class="l" x="688" y="1093.5">PPARGC1A</text>
<circle class="c5" cx="594" cy="1134" r="16.5"/><text class="l" x="591" y="1139.5">CCNT1</text>
<circle class="c5" cx="682" cy="1134" r="16.5"/><text class="l" x="680" y="1139.5">CDK9</text>
<circle class="c5" cx="636" cy="1155" r="16.5"/><text class="l" x="635" y="1160.5">CPSF2</text>
</g>

<g id="mcm">
<rect class="bx" x="757" y="1125" width="111" height="108" rx="14"/>
<text class="t" x="812" y="1248">MCM* complex</text>
<circle class="c5" cx="798" cy="1153" r="16.5"/><text class="l" x="798" y="1158.5">MCM3</text>
<circle class="c5" cx="839" cy="1192" r="16.5"/><text class="l" x="837" y="1197.5">MCM7</text>
<circle class="c5" cx="786" cy="1207" r="16.5"/><text class="l" x="786" y="1212.5">MCM5</text>
</g>

<g id="vatpase">
<rect class="bx" x="894" y="807" width="371" height="272" rx="30"/>
<text class="t" x="1150" y="1087">V-type ATPase complex</text>
<circle class="c5" cx="924" cy="838" r="16.5"/><text class="l" x="912" y="843.5">ATP6V0A1</text>
<circle class="c0" cx="1001" cy="838" r="16.5"/><text class="l" x="991" y="843.5">ATP6V0B</text>
<circle class="c5" cx="1079" cy="838" r="16.5"/><text class="l" x="1069" y="843.5">ATP6AP1</text>
<circle class="c5" cx="1156" cy="838" r="16.5"/><text class="l" x="1149" y="843.5">ATP6V0A2</text>
<circle class="c0" cx="1234" cy="838" r="16.5"/><text class="l" x="1233" y="843.5">ATP6V1B1</text>
<circle class="c5" cx="919" cy="881" r="16.5"/><text class="l" x="914" y="886.5">ATP6V1H</text>
<circle class="c1" cx="1001" cy="881" r="16.5"/><text class="l" x="995" y="886.5">UBC</text>
<circle class="c5" cx="1079" cy="881" r="16.5"/><text class="l" x="1060" y="886.5">ATP6V1B2</text>
<circle class="c0" cx="1156" cy="881" r="16.5"/><text class="l" x="1147" y="886.5">ATP6V0A4</text>
<circle class="c0" cx="1234" cy="881" r="16.5"/><text class="l" x="1233" y="886.5">ATP6V0D2</text>
<circle class="c0" cx="924" cy="923" r="16.5"/><text class="l" x="917" y="928.5">ATP6V1G2</text>
<circle class="c0" cx="1001" cy="923" r="16.5"/><text class="l" x="999" y="928.5">SCARB2</text>
<circle class="c5" cx="1079" cy="923" r="16.5"/><text class="l" x="1077" y="928.5">ATP6V1G1</text>
<circle class="c5" cx="1156" cy="923" r="16.5"/><text class="l" x="1155" y="928.5">STOM</text>
<circle class="c0" cx="1234" cy="923" r="16.5"/><text class="l" x="1233" y="928.5">ATP11A</text>
<circle class="c0" cx="924" cy="964" r="16.5"/><text class="l" x="923" y="969.5">AZU1</text>
<circle class="c0" cx="1001" cy="964" r="16.5"/><text class="l" x="994" y="969.5">DMXL1</text>
<circle class="c5" cx="1079" cy="964" r="16.5"/><text class="l" x="1073" y="969.5">KIAA2013</text>
<circle class="c5" cx="1156" cy="964" r="16.5"/><text class="l" x="1154" y="969.5">ATP6V1E1</text>
<circle class="c0" cx="1234" cy="964" r="16.5"/><text class="l" x="1234" y="969.5">ABCF2</text>
<circle class="c5" cx="924" cy="1007" r="16.5"/><text class="l" x="922" y="1012.5">ATP6V1C1</text>
<circle class="c5" cx="1001" cy="1007" r="16.5"/><text class="l" x="1000" y="1012.5">TCIRG1</text>
<circle class="c5" cx="1079" cy="1007" r="16.5"/><text class="l" x="1078" y="1012.5">ATP6V1A</text>
<circle class="c5" cx="1156" cy="1007" r="16.5"/><text class="l" x="1155" y="1012.5">ATP11C</text>
<circle class="c5" cx="1234" cy="1007" r="16.5"/><text class="l" x="1232" y="1012.5">ATP6V1D</text>
<circle class="c0" cx="924" cy="1048" r="16.5"/><text class="l" x="923" y="1053.5">DDOST</text>
<circle class="c5" cx="1001" cy="1048" r="16.5"/><text class="l" x="999" y="1053.5">ATP6V1F</text>
<circle class="c5" cx="1079" cy="1048" r="16.5"/><text class="l" x="1087" y="1053.5">ATP6V0D1</text>
<circle class="c5" cx="1156" cy="1048" r="16.5"/><text class="l" x="1173" y="1053.5">ATP6V0C</text>
</g>

<g id="transferrin">
<rect class="bx" x="1056" y="1235" width="181" height="187" rx="18"/>
<text class="t" x="1147" y="1429">Transferrin transport</text>
<circle class="c5" cx="1129" cy="1265" r="16.5"/><text class="l" x="1128" y="1270.5">VMA21</text>
<circle class="c5" cx="1182" cy="1281" r="16.5"/><text class="l" x="1181" y="1286.5">TMEM199</text>
<circle class="c1" cx="1086" cy="1302" r="16.5"/><text class="l" x="1085" y="1307.5">ATP6AP2</text>
<circle class="c5" cx="1205" cy="1331" r="16.5"/><text class="l" x="1204" y="1336.5">ATP6V0A1</text>
<circle class="c5" cx="1086" cy="1357" r="16.5"/><text class="l" x="1084" y="1362.5">ATP6V0D1</text>
<circle class="c0" cx="1181" cy="1381" r="16.5"/><text class="l" x="1191" y="1386.5">CTRL</text>
<circle class="c5" cx="1128" cy="1393" r="16.5"/><text class="l" x="1126" y="1398.5">KIAA2013</text>
</g>

<g id="casein">
<rect class="bx" x="799" y="1298" width="200" height="202" rx="18"/>
<text class="t" x="897" y="1298">Casein kinase complex</text>
<circle class="c5" cx="901" cy="1325" r="16.5"/><text class="l" x="899" y="1330.5">CSNK2A2</text>
<circle class="c0" cx="850" cy="1345" r="16.5"/><text class="l" x="848" y="1350.5">HMGB1</text>
<circle class="c4" cx="949" cy="1348" r="16.5"/><text class="l" x="948" y="1353.5">HDAC2</text>
<circle class="c5" cx="830" cy="1397" r="16.5"/><text class="l" x="827" y="1402.5">CSNK2A1</text>
<circle class="c0" cx="969" cy="1399" r="16.5"/><text class="l" x="967" y="1404.5">FKBP3</text>
<circle class="c5" cx="850" cy="1448" r="16.5"/><text class="l" x="848" y="1453.5">UTP18</text>
<circle class="c5" cx="948" cy="1450" r="16.5"/><text class="l" x="946" y="1455.5">CSNK2B</text>
<circle class="c5" cx="898" cy="1469" r="16.5"/><text class="l" x="897" y="1474.5">UTP14A</text>
</g>

<g id="rnasp2">
<rect class="bx" x="33" y="1232" width="347" height="268" rx="24"/>
<text class="t" x="207" y="1236">RNA splicing complex2</text>
<circle class="c2" cx="63" cy="1262" r="16.5"/><text class="l" x="62" y="1267.5">CSTF1</text>
<circle class="c0" cx="136" cy="1262" r="16.5"/><text class="l" x="135" y="1267.5">CLP1</text>
<circle class="c5" cx="207" cy="1262" r="16.5"/><text class="l" x="205" y="1267.5">CDC73</text>
<circle class="c5" cx="278" cy="1262" r="16.5"/><text class="l" x="277" y="1267.5">SNW1</text>
<circle class="c5" cx="348" cy="1262" r="16.5"/><text class="l" x="348" y="1267.5">XAB2</text>
<circle class="c5" cx="63" cy="1303" r="16.5"/><text class="l" x="63" y="1308.5">CPSF3</text>
<circle class="c5" cx="136" cy="1303" r="16.5"/><text class="l" x="135" y="1308.5">POLR2A</text>
<circle class="c0" cx="207" cy="1303" r="16.5"/><text class="l" x="215" y="1308.5">PAPOLA</text>
<circle class="c5" cx="278" cy="1303" r="16.5"/><text class="l" x="290" y="1308.5">RBBP6</text>
<circle class="c0" cx="348" cy="1303" r="16.5"/><text class="l" x="359" y="1308.5">CPSF4</text>
<circle class="c5" cx="63" cy="1345" r="16.5"/><text class="l" x="62" y="1350.5">FIP1L1</text>
<circle class="c5" cx="136" cy="1345" r="16.5"/><text class="l" x="134" y="1350.5">ZC3H4</text>
<circle class="c1" cx="207" cy="1345" r="16.5"/><text class="l" x="205" y="1350.5">CSTF2</text>
<circle class="c5" cx="278" cy="1345" r="16.5"/><text class="l" x="276" y="1350.5">CPSF1</text>
<circle class="c5" cx="348" cy="1345" r="16.5"/><text class="l" x="348" y="1350.5">PCF11</text>
<circle class="c5" cx="63" cy="1385" r="16.5"/><text class="l" x="62" y="1390.5">WDR33</text>
<circle class="c0" cx="136" cy="1385" r="16.5"/><text class="l" x="134" y="1390.5">PPP1CC</text>
<circle class="c5" cx="207" cy="1385" r="16.5"/><text class="l" x="211" y="1390.5">GTF3C3</text>
<circle class="c5" cx="278" cy="1385" r="16.5"/><text class="l" x="286" y="1390.5">CSTF3</text>
<circle class="c0" cx="348" cy="1385" r="16.5"/><text class="l" x="348" y="1390.5">GLIS2</text>
<circle class="c0" cx="63" cy="1428" r="16.5"/><text class="l" x="63" y="1433.5">UBC</text>
<circle class="c2" cx="136" cy="1428" r="16.5"/><text class="l" x="133" y="1433.5">SMARCAD1</text>
<circle class="c5" cx="207" cy="1428" r="16.5"/><text class="l" x="216" y="1433.5">WDR82</text>
<circle class="c2" cx="278" cy="1428" r="16.5"/><text class="l" x="285" y="1433.5">CDC5L</text>
<circle class="c0" cx="348" cy="1428" r="16.5"/><text class="l" x="348" y="1433.5">SSU72</text>
<circle class="c0" cx="63" cy="1469" r="16.5"/><text class="l" x="62" y="1474.5">RRAGA</text>
<circle class="c5" cx="136" cy="1469" r="16.5"/><text class="l" x="135" y="1474.5">CPSF2</text>
</g>

<g id="cellpolarity">
<rect class="bx" x="418" y="1344" width="147" height="156" rx="18"/>
<text class="t" x="467" y="1510">Cell polarity complex</text>
<circle class="c5" cx="493" cy="1373" r="16.5"/><text class="l" x="491" y="1378.5">LLGL1</text>
<circle class="c5" cx="448" cy="1398" r="16.5"/><text class="l" x="447" y="1403.5">PARD6G</text>
<circle class="c5" cx="535" cy="1398" r="16.5"/><text class="l" x="534" y="1403.5">PARD3</text>
<circle class="c5" cx="449" cy="1447" r="16.5"/><text class="l" x="447" y="1452.5">PRKCI</text>
<circle class="c2" cx="535" cy="1447" r="16.5"/><text class="l" x="534" y="1452.5">PRKCZ</text>
<circle class="c5" cx="492" cy="1472" r="16.5"/><text class="l" x="491" y="1477.5">LLGL2</text>
</g>

<g id="rnasp3">
<rect class="bx" x="599" y="1315" width="173" height="185" rx="18"/>
<text class="t" x="685" y="1510">RNA splicing complex 3</text>
<circle class="c0" cx="629" cy="1345" r="16.5"/><text class="l" x="616" y="1350.5">POLDIP3</text>
<circle class="c4" cx="686" cy="1345" r="16.5"/><text class="l" x="686" y="1350.5">FBL</text>
<circle class="c2" cx="741" cy="1345" r="16.5"/><text class="l" x="746" y="1350.5">PABPN1</text>
<circle class="c5" cx="629" cy="1388" r="16.5"/><text class="l" x="627" y="1393.5">LARP1</text>
<circle class="c1" cx="685" cy="1388" r="16.5"/><text class="l" x="684" y="1393.5">EIF4E</text>
<circle class="c5" cx="741" cy="1388" r="16.5"/><text class="l" x="751" y="1393.5">EIF4G2</text>
<circle class="c5" cx="629" cy="1429" r="16.5"/><text class="l" x="627" y="1434.5">U2AF2</text>
<circle class="c5" cx="685" cy="1429" r="16.5"/><text class="l" x="691" y="1434.5">SRSF1</text>
<circle class="c5" cx="741" cy="1429" r="16.5"/><text class="l" x="755" y="1434.5">DDX3X</text>
<circle class="c5" cx="629" cy="1472" r="16.5"/><text class="l" x="627" y="1477.5">NCBP1</text>
<circle class="c0" cx="685" cy="1472" r="16.5"/><text class="l" x="690" y="1477.5">EIF4G1</text>
<circle class="c0" cx="741" cy="1472" r="16.5"/><text class="l" x="755" y="1477.5">SRSF2</text>
</g>

<g id="connectors">
<line class="a3" x1="233" y1="263" x2="148" y2="154.5"/>
<line class="a2" x1="252" y1="258" x2="253.7" y2="175"/>
<line class="a3" x1="276" y1="271" x2="317.7" y2="242"/>
<line class="a2" x1="223" y1="278" x2="156.4" y2="259.5"/>
<line class="a1" x1="225" y1="302" x2="148.7" y2="341.5"/>
<line class="a3" x1="249" y1="315" x2="249" y2="324"/>
<line class="a3" x1="278" y1="300" x2="320.8" y2="319.4"/>
<line class="a1" x1="790" y1="283" x2="757.9" y2="225.5"/>
<line class="a3" x1="821" y1="283" x2="865.3" y2="224.7"/>
<line class="a3" x1="830" y1="296" x2="1044" y2="140.3"/>
<line class="a3" x1="778" y1="323" x2="751.4" y2="334"/>
<line class="a3" x1="849" y1="420" x2="894.2" y2="397.4"/>
<line class="a1" x1="855" y1="440" x2="1110.6" y2="357.7"/>
<line class="a3" x1="855" y1="440" x2="954.6" y2="481"/>
<line class="a2" x1="855" y1="446" x2="1108.3" y2="491"/>
<line class="a3" x1="840" y1="460" x2="983.9" y2="619.4"/>
<line class="a1" x1="850" y1="448" x2="1129.1" y2="638.2"/>
<line class="a3" x1="826" y1="464" x2="833.8" y2="502.4"/>
<line class="a3" x1="803" y1="460" x2="728.3" y2="551.7"/>
<line class="a3" x1="257" y1="505" x2="255" y2="485"/>
<line class="a3" x1="229" y1="534" x2="169" y2="530.3"/>
<line class="a3" x1="290" y1="522" x2="320.4" y2="510.5"/>
<line class="a1" x1="290" y1="545" x2="538.6" y2="626.3"/>
<line class="a3" x1="240" y1="557" x2="171.7" y2="618"/>
<line class="a3" x1="280" y1="563" x2="298.3" y2="590.5"/>
<line class="a3" x1="556" y1="1237" x2="520" y2="1206.6"/>
<line class="a1" x1="582" y1="1228" x2="616.3" y2="988.9"/>
<line class="a2" x1="594" y1="1228" x2="598.1" y2="1204.7"/>
<line class="a2" x1="596" y1="1228" x2="754.4" y2="956.7"/>
<line class="a1" x1="600" y1="1235" x2="749.2" y2="1098.1"/>
<line class="a3" x1="611" y1="1245" x2="736" y2="1203.6"/>
<line class="a3" x1="546" y1="1266" x2="402.2" y2="1307.2"/>
<line class="a3" x1="563" y1="1287" x2="544.8" y2="1321.4"/>
<line class="a1" x1="598" y1="1285" x2="611.8" y2="1303.4"/>
<line class="a3" x1="607" y1="1269" x2="778.8" y2="1344.6"/>
<line class="a3" x1="982" y1="1153" x2="1009.4" y2="1099.7"/>
<line class="a3" x1="993" y1="1202" x2="1038.8" y2="1239.7"/>
</g>

<g id="txnip"><use href="#hex" x="252" y="287"/><text class="l" x="252" y="292.5">TXNIP</text></g>
<g id="arrdc2"><use href="#hex" x="805" y="312"/><text class="l" x="805" y="317.5">ARRDC2</text></g>
<g id="arrdc1"><use href="#hex" x="823" y="436"/><text class="l" x="822" y="441.5">ARRDC1</text></g>
<g id="arrdc4"><use href="#hex" x="261" y="535"/><text class="l" x="261" y="540.5">ARRDC4</text></g>
<g id="arrdc3"><use href="#hex" x="578" y="1257"/><text class="l" x="578" y="1262.5">ARRDC3</text></g>
<g id="arrdc5"><use href="#hex" x="970" y="1183"/><text class="l" x="969" y="1188.5">ARRDC5</text></g>

<g id="legend">
<polygon points="219,1567 225,1556 237,1556 243,1567 237,1578 225,1578" fill="#f4e51b" stroke="#333" stroke-width="1.2"/>
<text class="g" x="253" y="1572">α-arrestin</text>
<circle cx="377" cy="1567" r="11" fill="#fff" stroke="#222" stroke-width="1.5"/>
<text class="g" x="401" y="1572">Proteins in complex</text>
<rect x="598" y="1554" width="24" height="26" rx="3" fill="#e3f2ee" stroke="#333" stroke-width="1.5"/>
<text class="g" x="632" y="1572">Clustered complex</text>
<line class="a1" x1="820" y1="1536" x2="871" y2="1536"/>
<line class="a2" x1="820" y1="1566" x2="866" y2="1566"/>
<line class="a3" x1="820" y1="1595" x2="862" y2="1595"/>
<text class="g" x="897" y="1542">0.1 &lt; FDR ≤ 0.2</text>
<text class="g" x="897" y="1571">0.05 &lt; FDR ≤ 0.1</text>
<text class="g" x="903" y="1600">FDR ≤ 0.05</text>
<text class="g" x="1069" y="1544">SAINTexpress scores</text>
<rect x="1078" y="1553" width="161" height="26" fill="url(#sg)" stroke="#aaa" stroke-width="0.8"/>
<text class="g" x="1083" y="1600" text-anchor="middle">0</text>
<text class="g" x="1233" y="1600" text-anchor="middle">1</text>
</g>
</svg>
